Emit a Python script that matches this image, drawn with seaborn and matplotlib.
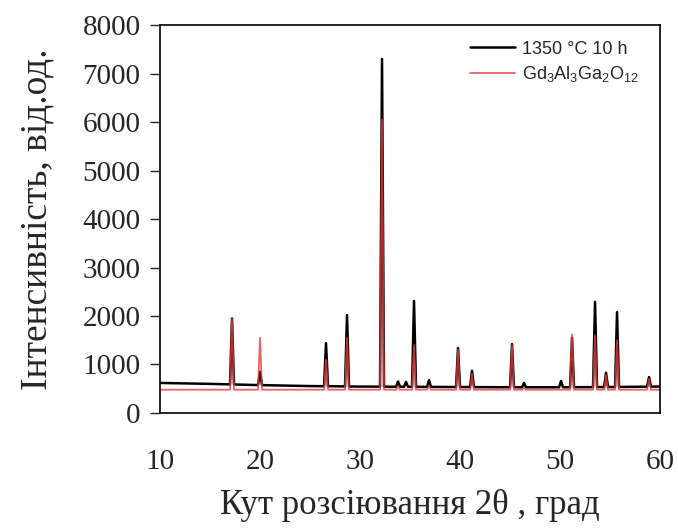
import numpy as np
import pandas as pd
import matplotlib
matplotlib.use("Agg")
import matplotlib.pyplot as plt
import seaborn as sns

sns.set_theme(style="white")
plt.rcParams['font.family'] = ['Liberation Serif', 'DejaVu Serif']
plt.rcParams['mathtext.fontset'] = 'custom'
plt.rcParams['mathtext.rm'] = 'Liberation Sans'
plt.rcParams['mathtext.it'] = 'Liberation Sans'
plt.rcParams['path.simplify'] = False

# background
bg_angle = [10, 15, 20, 25, 30, 35, 40, 45, 50, 55, 60]
black_bg = [620, 600, 575, 555, 545, 540, 535, 530, 530, 535, 545]
red_bg = [480, 480, 480, 480, 480, 480, 480, 480, 480, 480, 480]

# peaks: measured sample (black) and Gd3Al3Ga2O12 reference (red)
black_pos = [17.2, 20.0, 26.6, 28.7, 32.2, 33.8, 34.6, 35.4, 36.9, 39.8, 41.2,
             45.2, 46.4, 50.1, 51.2, 53.5, 54.6, 55.7, 58.9]
black_int = [1950, 850, 1440, 2020, 7300, 650, 640, 2310, 680, 1340, 870,
             1420, 620, 660, 1550, 2290, 830, 2080, 740]
red_pos = [17.2, 20.0, 26.6, 28.7, 32.2, 33.8, 35.4, 36.9, 39.8, 41.2,
           45.2, 46.4, 51.2, 53.5, 54.6, 55.7, 58.9]
red_int = [1950, 1550, 1100, 1550, 6050, 550, 1400, 550, 1300, 800,
           1400, 520, 1620, 1600, 780, 1500, 700]


def trace(bg_y, pos, inten, w=0.2):
    # background points, skipping any that sit inside a peak
    xs, ys = [], []
    for a, b in zip(bg_angle, bg_y):
        if all(abs(a - p) > w for p in pos):
            xs.append(a)
            ys.append(b)
    for p, h in zip(pos, inten):
        base_l = np.interp(p - w, bg_angle, bg_y)
        base_r = np.interp(p + w, bg_angle, bg_y)
        xs += [p - w, p, p + w]
        ys += [base_l, h, base_r]
    df = pd.DataFrame({"angle": xs, "I": ys}).sort_values("angle", kind="stable")
    return df


black = trace(black_bg, black_pos, black_int)
red = trace(red_bg, red_pos, red_int)

fig = plt.figure(figsize=(6.78, 5.29), dpi=100)
ax = fig.add_axes([0.236, 0.2193, 0.7375, 0.7334])

sns.lineplot(data=black, x="angle", y="I", ax=ax, color="black", lw=1.8,
             label="1350 °C 10 h", sort=False, estimator=None,
             solid_joinstyle="round")
sns.lineplot(data=red, x="angle", y="I", ax=ax, color="#e83a3a", lw=1.3,
             alpha=0.8, label=r"Gd$_3$Al$_3$Ga$_2$O$_{12}$", sort=False,
             estimator=None, solid_joinstyle="round")

ax.set_xlim(10, 60)
ax.set_ylim(0, 8000)
ax.set_xticks([10, 20, 30, 40, 50, 60])
ax.set_yticks(range(0, 8001, 1000))
ax.tick_params(axis="x", length=0, pad=26, labelsize=21)
ax.tick_params(axis="y", direction="out", length=7, width=1, pad=7,
               labelsize=21, left=True)
for s in ax.spines.values():
    s.set_color("black")
    s.set_linewidth(1.2)

ax.set_xlabel("Кут розсіювання 2θ , град", fontsize=25, labelpad=10)
ax.set_ylabel("Інтенсивність, від.од.", fontsize=27, labelpad=20)

leg = ax.legend(loc="upper left", bbox_to_anchor=(0.62, 0.96), frameon=False,
                borderpad=0, borderaxespad=0,
                prop={"family": "Liberation Sans", "size": 13},
                handlelength=2.5, handletextpad=0.4, labelspacing=0.35)

fig.savefig("out.png", dpi=100)
